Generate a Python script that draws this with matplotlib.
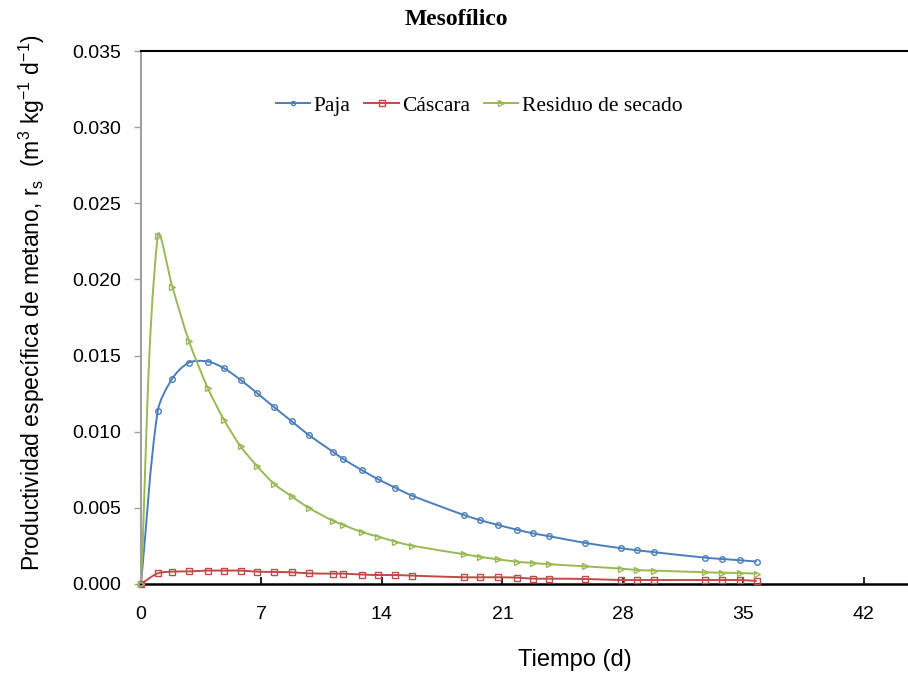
import numpy as np
import matplotlib
matplotlib.use("Agg")
from matplotlib import pyplot as plt
from matplotlib.path import Path
from matplotlib.patches import PathPatch
from matplotlib.lines import Line2D

# data (sampling times in days)
dias = [0, 0.97, 1.82, 2.79, 3.88, 4.82, 5.79, 6.76, 7.75, 8.76, 9.78, 11.17, 11.75,
        12.86, 13.79, 14.78, 15.73, 18.79, 19.72, 20.73, 21.83, 22.76, 23.71, 25.8,
        27.89, 28.8, 29.81, 32.77, 33.78, 34.81, 35.78]

paja = [0.0, 0.01134, 0.01349, 0.01454, 0.01461, 0.01417, 0.01340, 0.01252,
        0.01160, 0.01068, 0.00976, 0.00867, 0.00821, 0.00746, 0.00687, 0.00632,
        0.00581, 0.00452, 0.00419, 0.00388, 0.00357, 0.00333, 0.00314, 0.00270,
        0.00235, 0.00222, 0.00209, 0.00173, 0.00164, 0.00156, 0.00147]

cascara = [0.0, 0.00070, 0.00081, 0.00083, 0.00088, 0.00088, 0.00088, 0.00081,
           0.00079, 0.00077, 0.00070, 0.00068, 0.00068, 0.00062, 0.00059, 0.00059,
           0.00055, 0.00044, 0.00044, 0.00044, 0.00042, 0.00035, 0.00035, 0.00033,
           0.00026, 0.00026, 0.00026, 0.00026, 0.00026, 0.00026, 0.00020]

residuo = [0.0, 0.02285, 0.01952, 0.01594, 0.01287, 0.01079, 0.00903, 0.00772,
           0.00656, 0.00575, 0.00498, 0.00414, 0.00388, 0.00340, 0.00311, 0.00278,
           0.00252, 0.00195, 0.00178, 0.00162, 0.00147, 0.00138, 0.00130, 0.00116,
           0.00101, 0.00092, 0.00088, 0.00077, 0.00074, 0.00072, 0.00068]

c_paja = "#4a7ebb"
c_casc = "#be4b48"
c_resi = "#98b954"

plt.rcParams["font.family"] = ["Liberation Sans", "DejaVu Sans"]
plt.rcParams["mathtext.default"] = "regular"

xmax = 44.57
ymax = 0.035
fig = plt.figure(figsize=(9.08, 6.77), dpi=100)
ax = fig.add_axes([141 / 908, 1 - 584 / 677, 1 - 141 / 908, (584 - 51) / 677])

# pixels per data unit, used to shape the smoothed line like excel does
sx = 767 / xmax
sy = 533 / ymax


def smooth_path(x, y, t=0.3):
    p = np.column_stack([np.asarray(x, float) * sx, np.asarray(y, float) * sy])
    n = len(p)
    tang = []
    for i in range(n):
        a = p[i - 1] if i > 0 else p[i]
        b = p[i + 1] if i < n - 1 else p[i]
        d = b - a
        tang.append(d / np.hypot(*d))
    verts = [p[0]]
    codes = [Path.MOVETO]
    for i in range(n - 1):
        L = np.hypot(*(p[i + 1] - p[i]))
        verts += [p[i] + tang[i] * L * t, p[i + 1] - tang[i + 1] * L * t, p[i + 1]]
        codes += [Path.CURVE4] * 3
    verts = np.array(verts) / [sx, sy]
    return Path(verts, codes)


for yy, col in [(paja, c_paja), (cascara, c_casc), (residuo, c_resi)]:
    ax.add_patch(PathPatch(smooth_path(dias, yy), facecolor="none",
                           edgecolor=col, lw=1.4, zorder=2))

ax.plot(dias, paja, ls="none", marker="o", ms=4, mfc="none", mec=c_paja, mew=1.0,
        zorder=3, clip_on=False)
ax.plot(dias, cascara, ls="none", marker="s", ms=5, mfc="none", mec=c_casc, mew=1.0,
        zorder=3, clip_on=False)
ax.plot(dias, residuo, ls="none", marker=">", ms=5, mfc="none", mec=c_resi, mew=1.0,
        zorder=3, clip_on=False)

ax.set_xlim(0, xmax)
ax.set_ylim(0, ymax)
ax.set_xticks([0, 7, 14, 21, 28, 35, 42])
yt = np.arange(0, 0.0351, 0.005)
ax.set_yticks(yt)
ax.set_yticklabels([f"{v:.3f}" for v in yt])
ax.tick_params(axis="x", direction="in", length=5, width=1.2, color="black",
               labelsize=14, pad=16)
ax.tick_params(axis="y", direction="out", length=5, width=1.0, color="#a0a0a0",
               labelsize=14, pad=9)

ax.spines["right"].set_visible(False)
ax.spines["left"].set_color("#a0a0a0")
ax.spines["left"].set_linewidth(1.5)
ax.spines["bottom"].set_linewidth(1.8)
ax.spines["top"].set_linewidth(1.5)

fig.text(456 / 908, 1 - 25 / 677, "Mesofílico", ha="center", va="baseline",
         fontsize=17, fontweight="bold", family="Liberation Serif")
fig.text(575 / 908, 1 - 660 / 677, "Tiempo (d)", ha="center", va="center", fontsize=17)
fig.text(32 / 908, 1 - 303 / 677,
         "Productividad específica de metano, r$_s$  (m$^3$ kg$^{-1}$ d$^{-1}$)",
         ha="center", va="center", rotation=90, fontsize=16.5)

handles = [
    Line2D([], [], color=c_paja, lw=1.4, marker="o", ms=3, mfc="none"),
    Line2D([], [], color=c_casc, lw=1.4, marker="s", ms=4, mfc="none"),
    Line2D([], [], color=c_resi, lw=1.4, marker=">", ms=4, mfc="none"),
]
fig.legend(handles, ["Paja", "Cáscara", "Residuo de secado"], ncol=3, frameon=False,
           loc="center", bbox_to_anchor=(479 / 908, 1 - 106 / 677),
           prop={"family": "Liberation Serif", "size": 15.5}, borderaxespad=0,
           borderpad=0, handlelength=1.6, handletextpad=0.15, columnspacing=0.65)

fig.savefig("out.png", dpi=100)
